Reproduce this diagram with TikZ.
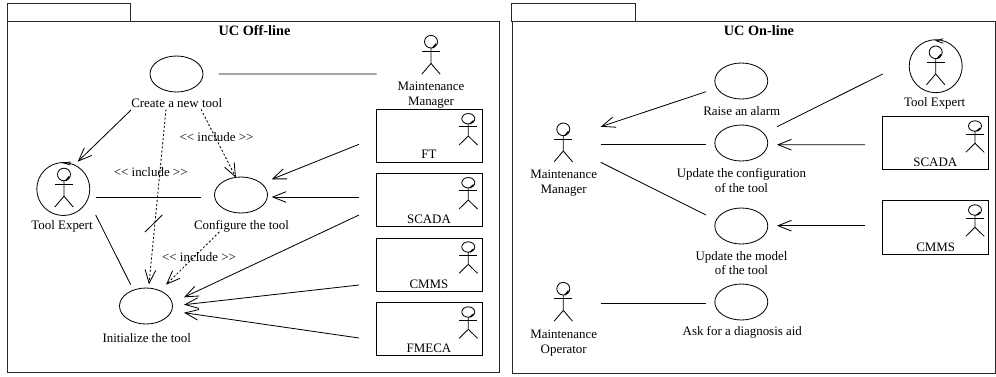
\documentclass[tikz,border=0pt]{standalone}
\usepackage{fontspec}
\setmainfont{Liberation Serif}
\usetikzlibrary{shapes.geometric,arrows.meta}
\tikzset{
  ln/.style={draw=black,line width=0.62pt},
  frameln/.style={draw=black!85,line width=0.75pt},
  usecase/.style={ln,ellipse,minimum width=53*0.75pt,minimum height=36*0.75pt,inner sep=0pt,outer sep=0pt},
  expertring/.style={ln,circle,minimum size=53*0.75pt,inner sep=0pt,outer sep=0pt},
  headbig/.style={ln,ellipse,minimum width=13*0.75pt,minimum height=12.6*0.75pt,inner sep=0pt,outer sep=0pt},
  headsmall/.style={ln,ellipse,minimum width=13*0.75pt,minimum height=10.4*0.75pt,inner sep=0pt,outer sep=0pt},
  sysbox/.style={ln,rectangle,minimum width=105.6*0.75pt,minimum height=53*0.75pt,inner sep=0pt,outer sep=0pt},
  lab/.style={inner sep=0pt,align=center,text height=8.6pt,text depth=2pt,font=\fontsize{9.7}{11}\selectfont},
  labtwo/.style={inner sep=0pt,align=center,font=\fontsize{9.7}{11}\selectfont},
  ttl/.style={inner sep=0pt,text height=9.5pt,text depth=2pt,font=\fontsize{10.7}{12}\selectfont\bfseries},
  assoc/.style={ln},
  dir/.style={ln,-{Straight Barb[length=10pt,width=8pt,line width=0.62pt]}},
  incl/.style={ln,dash pattern=on 1.6pt off 1.5pt,-{Straight Barb[length=10pt,width=8pt,line width=0.62pt]}}
}
% offset from a named node's centre
\newcommand{\rel}[3]{([shift={(#2,#3)}]#1.center)}
% stick figure below a named head: name, style, position, arm, body, leg, half head height
\newcommand{\stick}[7]{%
  \node[#2] (#1) at (#3) {};
  \draw[ln] \rel{#1}{0}{#7} -- \rel{#1}{0}{#5} -- \rel{#1}{-9.2}{#6};
  \draw[ln] \rel{#1}{0}{#5} -- \rel{#1}{9.2}{#6};
  \draw[ln] \rel{#1}{-9}{#4} -- \rel{#1}{9}{#4};
  \draw[ln,line width=0.9pt] \rel{#1}{1.5}{#7} -- \rel{#1}{5.2}{2};
}
\newcommand{\bigactor}[2]{\stick{#1}{headbig}{#2}{10.2}{21.7}{32.5}{6.3}}
\newcommand{\boxactor}[2]{\stick{#1}{headsmall}{#2}{8}{17.3}{26.3}{5.2}}
\begin{document}
\begin{tikzpicture}[x=0.75pt,y=-0.75pt]
\useasboundingbox (0,0) rectangle (996,376);
\fill[white] (0,0) rectangle (996,376);
% ---------- frames
\node[frameln,rectangle,minimum width=491.7*0.75pt,minimum height=351.7*0.75pt,inner sep=0pt,outer sep=0pt] (frameA) at (253.2,196.9) {};
\node[frameln,rectangle,minimum width=123.4*0.75pt,minimum height=17.3*0.75pt,inner sep=0pt,outer sep=0pt] (tabA) at (69,12.4) {};
\node[frameln,rectangle,minimum width=483*0.75pt,minimum height=352.7*0.75pt,inner sep=0pt,outer sep=0pt] (frameB) at (753.5,197.4) {};
\node[frameln,rectangle,minimum width=123.7*0.75pt,minimum height=17.5*0.75pt,inner sep=0pt,outer sep=0pt] (tabB) at (573.8,12.3) {};
\node[ttl] (titleA) at (254.5,30.3) {UC Off-line};
\node[ttl] (titleB) at (759,30.3) {UC On-line};
% ---------- off-line use cases
\node[usecase] (create) at (176.5,74) {};
\node[usecase] (conf) at (241,195) {};
\node[usecase] (init) at (146,306) {};
\node[lab] (createL) at (176.7,103.3) {Create a new tool};
\node[lab] (confL) at (241.5,225.3) {Configure the tool};
\node[lab] (initL) at (146.7,338) {Initialize the tool};
% ---------- off-line actors
\bigactor{mgrA}{431,41.7}
\node[labtwo] (mgrAL) at (431,95.3) {Maintenance\\Manager};
\node[expertring] (ringA) at (63.3,189) {};
\bigactor{teA}{64,174.5}
\node[lab] (teAL) at (62,225.3) {Tool Expert};
\draw[ln] \rel{ringA}{7.5}{-27} -- \rel{ringA}{0.5}{-26} -- \rel{ringA}{7}{-24};
\node[sysbox] (ft) at (429.5,135.7) {};
\boxactor{ftA}{468.3,118.7}
\node[lab] (ftL) at (429,154.3) {FT};
\node[sysbox] (scadaA) at (429.5,199.8) {};
\boxactor{scadaAA}{468.3,182.7}
\node[lab] (scadaAL) at (429,219.3) {SCADA};
\node[sysbox] (cmmsA) at (429.5,264.7) {};
\boxactor{cmmsAA}{468.3,247}
\node[lab] (cmmsAL) at (429,284) {CMMS};
\node[sysbox] (fmeca) at (429.5,329) {};
\boxactor{fmecaA}{468.3,312}
\node[lab] (fmecaL) at (429,348.3) {FMECA};
% ---------- off-line connectors
\draw[assoc] \rel{create}{42.2}{0} -- \rel{mgrA}{-54.3}{32.3};
\draw[dir] \rel{create}{-45.5}{36} -- \rel{ringA}{14.4}{-27.3};
\draw[incl] \rel{create}{-10.5}{35.3} -- \rel{init}{3}{-21.7};
\draw[incl] \rel{create}{24.5}{35.3} -- \rel{conf}{-5}{-17.3};
\draw[assoc] \rel{ringA}{32.4}{8} -- \rel{conf}{-40}{2};
\draw[assoc] \rel{ringA}{32.4}{26} -- \rel{init}{-15.3}{-21.3};
\draw[incl] \rel{conf}{-21.7}{37} -- \rel{init}{20}{-21.3};
\draw[dir] \rel{ft}{-70.5}{8.6} -- \rel{conf}{30.7}{-15.7};
\draw[dir] \rel{scadaA}{-70.5}{-2.8} -- \rel{conf}{30.7}{2};
\draw[dir] \rel{scadaA}{-70.5}{15.2} -- \rel{init}{38}{-8.7};
\draw[dir] \rel{cmmsA}{-70.5}{20.3} -- \rel{init}{38}{-1.3};
\draw[dir] \rel{fmeca}{-70.5}{9} -- \rel{init}{38}{6.7};
\coordinate (tickA) at (145,232);
\coordinate (tickB) at (162.3,215);
\draw[ln] (tickA) -- (tickB);
\node[lab] (inclA) at (216.5,136.7) {<{}< include >{}>};
\node[lab] (inclB) at (150.7,172.3) {<{}< include >{}>};
\node[lab] (inclC) at (199,256.7) {<{}< include >{}>};
% ---------- on-line use cases
\node[usecase] (raise) at (741.3,81) {};
\node[usecase] (cfg) at (741.3,143) {};
\node[usecase] (model) at (741.3,226) {};
\node[usecase] (ask) at (741.3,302) {};
\node[lab] (raiseL) at (741.7,110.7) {Raise an alarm};
\node[labtwo] (cfgL) at (741.5,180.3) {Update the configuration\\of the tool};
\node[labtwo] (modelL) at (741.5,263) {Update the model\\of the tool};
\node[lab] (askL) at (742.3,331.3) {Ask for a diagnosis aid};
% ---------- on-line actors
\bigactor{mgrB}{563.3,129.3}
\node[labtwo] (mgrBL) at (563.7,183.2) {Maintenance\\Manager};
\bigactor{opB}{563.3,288.7}
\node[labtwo] (opBL) at (563.7,342.8) {Maintenance\\Operator};
\node[expertring] (ringB) at (935.7,66.2) {};
\bigactor{teB}{935.7,52.3}
\node[lab] (teBL) at (934.7,102) {Tool Expert};
\draw[ln] \rel{ringB}{7.5}{-27.5} -- \rel{ringB}{0.5}{-25.5} -- \rel{ringB}{7.5}{-23};
\node[sysbox] (scadaB) at (935.7,142.8) {};
\boxactor{scadaBA}{975,126}
\node[lab] (scadaBL) at (935.3,162) {SCADA};
\node[sysbox,minimum height=53.6*0.75pt] (cmmsB) at (935.7,227.5) {};
\boxactor{cmmsBA}{975,210}
\node[lab] (cmmsBL) at (935.7,247.3) {CMMS};
% ---------- on-line connectors
\draw[dir] \rel{raise}{-35.3}{10.7} -- \rel{mgrB}{37.4}{-2.6};
\draw[assoc] \rel{mgrB}{37.4}{15} -- \rel{cfg}{-35.3}{1.3};
\draw[assoc] \rel{mgrB}{37.4}{33} -- \rel{model}{-35.3}{-11};
\draw[assoc] \rel{ringB}{-53}{7.8} -- \rel{cfg}{35.7}{-16.3};
\draw[dir] \rel{scadaB}{-70.7}{1.9} -- \rel{cfg}{35.7}{1.7};
\draw[dir] \rel{cmmsB}{-70.7}{-1.8} -- \rel{model}{35.7}{-0.3};
\draw[assoc] \rel{opB}{37.4}{14.6} -- \rel{ask}{-35.3}{1.3};
\end{tikzpicture}
\end{document}
